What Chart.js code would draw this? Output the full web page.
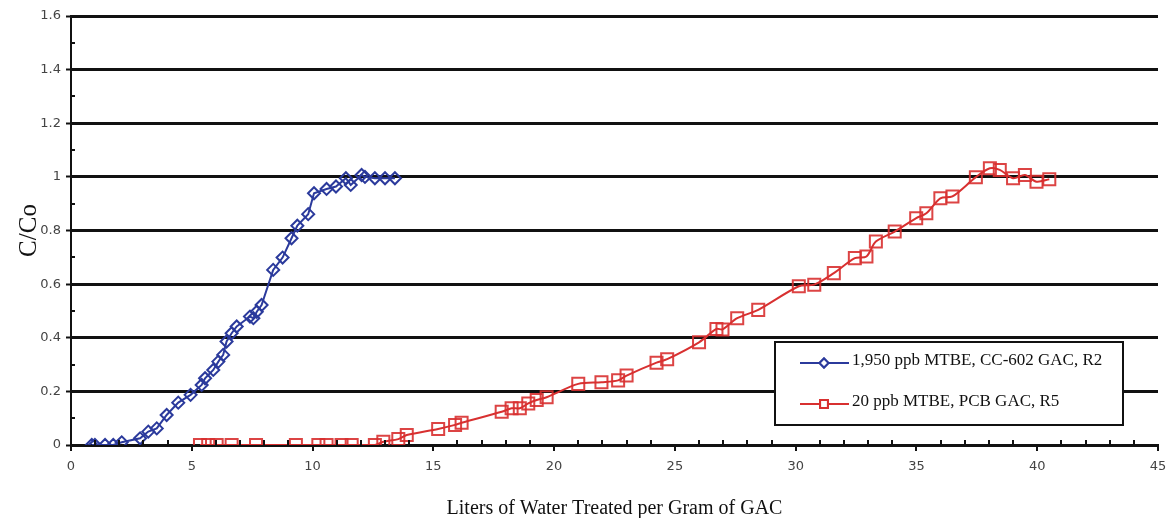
<!DOCTYPE html>
<html>
<head>
<meta charset="utf-8">
<script src="https://cdn.jsdelivr.net/npm/chart.js"></script>
<style>
  body { margin: 0; background: #fff; }
  #wrap { width: 1170px; height: 518px; }
</style>
</head>
<body>
<div id="wrap"><canvas id="breakthroughChart" width="1170" height="518"></canvas></div>
<script>
// R2 column: 1,950 ppb MTBE on CC-602 GAC
const r2Liters = [0.86, 0.99, 1.41, 1.75, 2.1, 2.86, 3.2, 3.55, 3.96, 4.44, 4.95, 5.41, 5.55, 5.89, 6.1, 6.3, 6.44, 6.65, 6.86, 7.41, 7.55, 7.69, 7.89, 8.37, 8.76, 9.13, 9.37, 9.82, 10.06, 10.58, 10.97, 11.38, 11.58, 12.03, 12.17, 12.58, 13.0, 13.41];
const r2Ratio = [0, 0, 0, 0, 0.01, 0.025, 0.05, 0.062, 0.112, 0.158, 0.187, 0.224, 0.249, 0.28, 0.311, 0.336, 0.386, 0.417, 0.442, 0.479, 0.473, 0.497, 0.522, 0.653, 0.699, 0.771, 0.818, 0.861, 0.939, 0.955, 0.964, 0.995, 0.97, 1.007, 1.0, 0.995, 0.995, 0.995];

// R5 column: 20 ppb MTBE on PCB GAC
const r5Liters = [5.34, 5.68, 6.03, 6.65, 7.66, 9.31, 10.24, 10.58, 11.2, 11.62, 12.58, 12.93, 13.55, 13.9, 15.2, 15.9, 16.17, 17.83, 18.24, 18.58, 18.93, 19.28, 19.69, 21.0, 21.96, 22.65, 23.0, 24.24, 24.68, 26.0, 26.72, 26.97, 27.58, 28.45, 30.13, 30.77, 31.58, 32.45, 32.93, 33.32, 34.1, 34.99, 35.41, 35.99, 36.49, 37.46, 38.04, 38.45, 39.0, 39.49, 39.97, 40.5];
const r5Ratio = [0, 0, 0, 0, 0, 0, 0, 0, 0, 0, 0, 0.012, 0.022, 0.037, 0.06, 0.075, 0.083, 0.124, 0.137, 0.137, 0.155, 0.168, 0.178, 0.228, 0.234, 0.241, 0.259, 0.307, 0.32, 0.383, 0.433, 0.431, 0.473, 0.504, 0.592, 0.598, 0.641, 0.697, 0.703, 0.759, 0.796, 0.846, 0.864, 0.92, 0.927, 0.999, 1.032, 1.026, 0.995, 1.007, 0.982, 0.991];

const seriesNames = ['1,950 ppb MTBE, CC-602 GAC, R2', '20 ppb MTBE, PCB GAC, R5'];

const BLUE = '#2b3a9c';
const RED = '#d83030';

const toPoints = (xs, ys) => xs.map((x, i) => ({ x, y: ys[i] }));

// small minor tick marks (0.1 on y, 1 on x) inside the plot
const minorTicks = {
    id: 'minorTicks',
    afterDraw(chart) {
        const { ctx, scales: { x, y } } = chart;
        ctx.save();
        ctx.strokeStyle = '#111';
        ctx.lineWidth = 2;
        ctx.beginPath();
        for (let v = 0.1; v < 1.6; v += 0.2) {
            const py = Math.round(y.getPixelForValue(v));
            ctx.moveTo(x.left, py);
            ctx.lineTo(x.left + 4, py);
        }
        for (let v = 1; v < 45; v++) {
            if (v % 5 === 0) continue;
            const px = Math.round(x.getPixelForValue(v));
            ctx.moveTo(px, y.bottom);
            ctx.lineTo(px, y.bottom - 5);
        }
        ctx.stroke();
        ctx.restore();
    }
};

// boxed legend sitting in the lower right of the plot
const boxLegend = {
    id: 'boxLegend',
    afterDatasetsDraw(chart) {
        const { ctx } = chart;
        const bx = 775, by = 342, bw = 348, bh = 83;
        ctx.save();
        ctx.fillStyle = '#fff';
        ctx.fillRect(bx, by, bw, bh);
        ctx.strokeStyle = '#111';
        ctx.lineWidth = 2;
        ctx.strokeRect(bx, by, bw, bh);

        const rows = [
            { color: BLUE, style: 'rectRot', radius: 4.5, y: by + 21 },
            { color: RED, style: 'rect', radius: 5.5, y: by + 62 }
        ];
        ctx.font = '17px "Liberation Serif", serif';
        ctx.textBaseline = 'middle';
        rows.forEach((r, i) => {
            ctx.strokeStyle = r.color;
            ctx.lineWidth = 2;
            ctx.beginPath();
            ctx.moveTo(bx + 25, r.y);
            ctx.lineTo(bx + 74, r.y);
            ctx.stroke();
            ctx.fillStyle = '#fff';
            Chart.helpers.drawPoint(ctx, { pointStyle: r.style, radius: r.radius, borderWidth: 2 }, bx + 49, r.y);
            ctx.fill();
            ctx.stroke();
            ctx.fillStyle = '#111';
            ctx.fillText(seriesNames[i], bx + 77, r.y - 2);
        });
        ctx.restore();
    }
};

const ctx = document.getElementById('breakthroughChart').getContext('2d');
const breakthroughChart = new Chart(ctx, {
    type: 'line',
    data: {
        datasets: [{
            label: seriesNames[0],
            data: toPoints(r2Liters, r2Ratio),
            borderColor: BLUE,
            borderWidth: 2,
            pointStyle: 'rectRot',
            pointRadius: 6,
            pointBorderWidth: 2,
            pointBorderColor: BLUE,
            pointBackgroundColor: 'rgba(0,0,0,0)',
            tension: 0
        }, {
            label: seriesNames[1],
            data: toPoints(r5Liters, r5Ratio),
            borderColor: RED,
            borderWidth: 2,
            pointStyle: 'rect',
            pointRadius: 8.5,
            pointBorderWidth: 2,
            pointBorderColor: 'rgba(216,48,48,0.9)',
            pointBackgroundColor: 'rgba(0,0,0,0)',
            tension: 0.3
        }]
    },
    options: {
        responsive: false,
        animation: false,
        layout: { padding: { left: 10, right: 12, top: 16, bottom: 0 } },
        plugins: {
            legend: { display: false },
            tooltip: { enabled: false }
        },
        scales: {
            x: {
                type: 'linear',
                min: 0,
                max: 45,
                afterFit: (scale) => {
                    scale.height = 73;
                    scale.paddingLeft = 0;
                    scale.paddingRight = 0;
                },
                ticks: {
                    stepSize: 5,
                    color: '#444',
                    padding: 8,
                    font: { family: '"DejaVu Sans", sans-serif', size: 13 }
                },
                grid: {
                    drawOnChartArea: false,
                    drawTicks: true,
                    tickLength: 6,
                    color: '#111',
                    lineWidth: 2
                },
                border: { color: '#111', width: 3 },
                title: {
                    display: true,
                    text: 'Liters of Water Treated per Gram of GAC',
                    color: '#111',
                    padding: { top: 0, bottom: -3 },
                    font: { family: '"Liberation Serif", serif', size: 20 }
                }
            },
            y: {
                min: 0,
                max: 1.6,
                afterFit: (scale) => { scale.width = 61; },
                ticks: {
                    stepSize: 0.2,
                    color: '#444',
                    padding: 5,
                    font: { family: '"DejaVu Sans", sans-serif', size: 13 },
                    callback: (v) => Number(v.toFixed(1)).toString()
                },
                grid: {
                    color: '#111',
                    lineWidth: 3,
                    tickLength: 5,
                    tickWidth: 2
                },
                border: { color: '#111', width: 2 },
                title: {
                    display: true,
                    text: 'C/Co',
                    color: '#111',
                    padding: { bottom: 4 },
                    font: { family: '"Liberation Serif", serif', size: 25 }
                }
            }
        }
    },
    plugins: [minorTicks, boxLegend]
});
</script>
</body>
</html>
